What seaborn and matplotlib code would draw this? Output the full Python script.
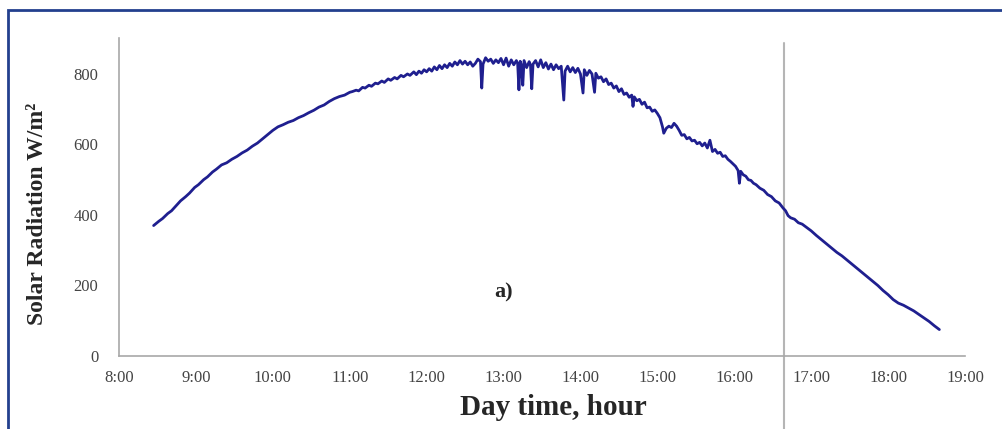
import matplotlib
matplotlib.use('Agg')
import matplotlib.pyplot as plt
import seaborn as sns
import pandas as pd
from matplotlib.patches import Rectangle

# measured solar radiation, time of day (HH:MM) and W/m^2
TIMES = [
    '08:27', '08:31', '08:34', '08:38', '08:41', '08:45', '08:48', '08:52', '08:55', '08:59',
    '09:02', '09:06', '09:09', '09:13', '09:16', '09:20', '09:24', '09:28', '09:32', '09:36',
    '09:40', '09:44', '09:48', '09:52', '09:56', '10:00', '10:04', '10:08', '10:12', '10:16',
    '10:20', '10:24', '10:28', '10:32', '10:36', '10:40', '10:44', '10:48', '10:52', '10:56',
    '11:00', '11:02', '11:05', '11:07', '11:10', '11:12', '11:15', '11:17', '11:20', '11:22',
    '11:25', '11:27', '11:30', '11:32', '11:35', '11:37', '11:40', '11:42', '11:45', '11:47',
    '11:50', '11:52', '11:54', '11:56', '11:58', '12:00', '12:02', '12:04', '12:06', '12:08',
    '12:10', '12:12', '12:14', '12:16', '12:18', '12:20', '12:22', '12:24', '12:26', '12:28',
    '12:30', '12:32', '12:34', '12:36', '12:38', '12:40', '12:42', '12:43', '12:44', '12:46',
    '12:48', '12:50', '12:52', '12:54', '12:56', '12:58', '13:00', '13:02', '13:04', '13:06',
    '13:08', '13:10', '13:11', '13:12', '13:13', '13:14', '13:15', '13:16', '13:18', '13:20',
    '13:21', '13:22', '13:23', '13:25', '13:27', '13:29', '13:31', '13:33', '13:35', '13:37',
    '13:39', '13:41', '13:43', '13:45', '13:47', '13:48', '13:50', '13:52', '13:54', '13:56',
    '13:58', '14:00', '14:02', '14:03', '14:05', '14:07', '14:09', '14:11', '14:12', '14:14',
    '14:16', '14:18', '14:20', '14:22', '14:24', '14:26', '14:28', '14:30', '14:32', '14:34',
    '14:36', '14:38', '14:40', '14:41', '14:42', '14:44', '14:46', '14:48', '14:50', '14:52',
    '14:54', '14:56', '14:58', '15:00', '15:02', '15:04', '15:05', '15:07', '15:09', '15:11',
    '15:13', '15:15', '15:17', '15:19', '15:21', '15:23', '15:25', '15:27', '15:29', '15:31',
    '15:33', '15:35', '15:37', '15:39', '15:41', '15:43', '15:45', '15:47', '15:49', '15:51',
    '15:53', '15:55', '15:57', '15:59', '16:01', '16:03', '16:04', '16:05', '16:07', '16:09',
    '16:11', '16:13', '16:15', '16:17', '16:20', '16:23', '16:26', '16:29', '16:32', '16:35',
    '16:38', '16:40', '16:42', '16:44', '16:47', '16:50', '16:53', '16:56', '17:00', '17:04',
    '17:08', '17:12', '17:16', '17:20', '17:24', '17:28', '17:32', '17:36', '17:40', '17:44',
    '17:48', '17:52', '17:56', '18:00', '18:04', '18:08', '18:12', '18:16', '18:20', '18:24',
    '18:28', '18:32', '18:36', '18:40',
]
RADIATION = [
    370, 382, 390, 404, 412, 428, 440, 452, 462, 478,
    486, 500, 508, 522, 530, 542, 548, 558, 566, 576,
    584, 595, 604, 616, 628, 640, 650, 656, 663, 668,
    676, 682, 690, 697, 706, 712, 722, 730, 736, 740,
    748, 750, 754, 752, 762, 760, 768, 765, 774, 772,
    780, 776, 786, 782, 790, 786, 796, 792, 800, 796,
    806, 798, 808, 802, 812, 806, 815, 808, 820, 812,
    824, 815, 826, 818, 830, 822, 834, 826, 838, 828,
    836, 826, 834, 822, 830, 842, 835, 760, 828, 846,
    836, 842, 830, 840, 832, 844, 826, 845, 822, 840,
    826, 838, 830, 755, 836, 824, 768, 838, 818, 835,
    826, 758, 828, 838, 820, 840, 818, 832, 814, 828,
    812, 826, 815, 822, 726, 808, 822, 806, 818, 804,
    816, 800, 746, 812, 796, 810, 800, 748, 802, 788,
    792, 778, 786, 770, 774, 760, 766, 750, 758, 742,
    746, 734, 740, 708, 735, 724, 728, 714, 720, 704,
    706, 694, 698, 688, 676, 650, 632, 646, 652, 648,
    660, 652, 640, 626, 628, 616, 620, 610, 612, 602,
    606, 596, 604, 590, 612, 580, 586, 575, 578, 566,
    568, 558, 552, 545, 538, 526, 490, 524, 514, 510,
    500, 498, 490, 486, 476, 470, 458, 452, 440, 434,
    420, 412, 398, 392, 388, 378, 374, 366, 355, 342,
    330, 318, 306, 294, 284, 272, 260, 248, 236, 224,
    212, 200, 186, 174, 160, 150, 144, 136, 128, 118,
    108, 98, 86, 75,
]
HOUR_TICKS = list(range(8, 20))
Y_TICKS = [0, 200, 400, 600, 800]
MARKER_TIME = '16:39'

assert len(TIMES) == len(RADIATION)


def to_hours(t):
    h, m = t.split(':')
    return int(h) + int(m) / 60.0


df = pd.DataFrame({'hour': [to_hours(t) for t in TIMES], 'radiation': RADIATION})

sns.set_style('white')
plt.rcParams['font.family'] = ['Liberation Serif', 'DejaVu Serif']

fig = plt.figure(figsize=(10.03, 4.29), dpi=100)
ax = fig.add_axes([119 / 1003, 1 - 356 / 429, (965 - 119) / 1003, (356 - 38) / 429])

sns.lineplot(data=df, x='hour', y='radiation', ax=ax, color='#1f1f8f', linewidth=2.0, sort=False)

ax.set_xlim(8, 19)
ax.set_ylim(0, 902)
ax.set_xticks(HOUR_TICKS)
ax.set_xticklabels([f'{h}:00' for h in HOUR_TICKS])
ax.set_yticks(Y_TICKS)

gray = '#a8a8a8'
for side in ['top', 'right']:
    ax.spines[side].set_visible(False)
for side in ['left', 'bottom']:
    ax.spines[side].set_color(gray)
    ax.spines[side].set_linewidth(1.2)
ax.tick_params(axis='both', direction='out', length=4, width=1, color=gray,
               labelsize=12, labelcolor='#444444')
ax.tick_params(axis='x', pad=6)
ax.tick_params(axis='y', pad=11)

ax.set_xlabel('Day time, hour', fontsize=21, fontweight='bold', va='center')
ax.xaxis.set_label_coords(0.513, -0.163)
ax.set_ylabel('Solar Radiation W/m²', fontsize=17, fontweight='bold', va='center')
ax.yaxis.set_label_coords(-0.096, 0.447)

# vertical marker line running down past the axis
ax.axvline(to_hours(MARKER_TIME), ymin=-0.24, ymax=0.984, color='#b5b5b5',
           linewidth=1.5, clip_on=False, zorder=0)

ax.text(0.455, 0.2, 'a)', transform=ax.transAxes, fontsize=16, fontweight='bold',
        ha='center', va='center')

# frame around the figure
fig.patches.append(Rectangle((8 / 1003, -0.05), 1.2, 1 - 10 / 429 + 0.05,
                             transform=fig.transFigure, fill=False,
                             edgecolor='#23408e', linewidth=2, zorder=10))

fig.savefig('out.png', dpi=100)
